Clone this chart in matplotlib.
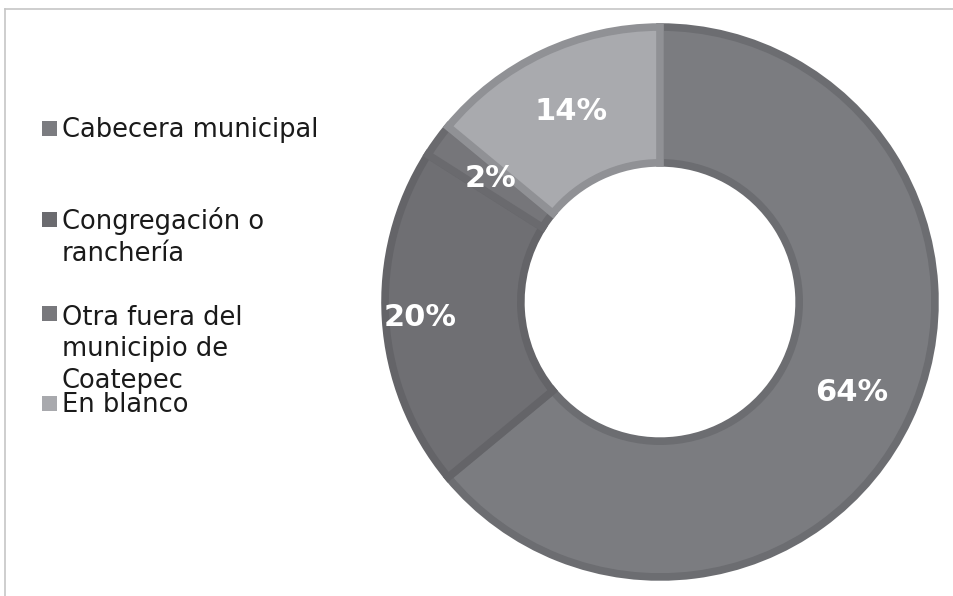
import matplotlib.pyplot as plt
from matplotlib.lines import Line2D
from matplotlib.patches import Rectangle
import numpy as np

# lugar de residencia
etiquetas = ["Cabecera municipal", "Congregación o\nranchería",
             "Otra fuera del\nmunicipio de\nCoatepec", "En blanco"]
valores = [64, 20, 2, 14]

relleno = ["#7b7c80", "#6f6f73", "#76767a", "#a9aaae"]
borde = ["#6c6d71", "#646468", "#6a6a6e", "#909195"]
marcas = ["#7b7c80", "#6b6b6f", "#78787c", "#a8a9ad"]

fig = plt.figure(figsize=(9.54, 5.96), dpi=100)
W, H = 954, 596

# marco del grafico (solo arriba e izquierda)
fig.add_artist(Line2D([5 / W, 1], [1 - 9 / H, 1 - 9 / H], color="#c6c6c6", lw=1.2))
fig.add_artist(Line2D([5 / W, 5 / W], [0, 1 - 9 / H], color="#c6c6c6", lw=1.2))

ax = fig.add_axes([380 / W, 14 / H, 560 / W, 560 / H])
wedges, _ = ax.pie(valores, startangle=90, counterclock=False, radius=0.982,
                   colors=relleno,
                   wedgeprops=dict(width=0.485, linewidth=5.5))
for w, c in zip(wedges, borde):
    w.set_edgecolor(c)
    w.set_joinstyle("miter")
ax.set_xlim(-1, 1)
ax.set_ylim(-1, 1)
ax.set_aspect("equal")
ax.axis("off")

# porcentajes
dist = [0.755, 0.86, 0.75, 0.75]
acum = 0
for v, d in zip(valores, dist):
    ang = np.deg2rad(90 - (acum + v / 2) * 3.6)
    acum += v
    ax.text(d * np.cos(ang), d * np.sin(ang), f"{v}%", ha="center", va="center",
            color="white", fontsize=22, fontweight="bold")

# leyenda (linea base de la primera linea de cada rotulo)
base_y = [137, 228, 322, 412]
paso = 33
for lab, c, y in zip(etiquetas, marcas, base_y):
    n = lab.count("\n")
    fig.add_artist(Rectangle((42 / W, 1 - (y - 1) / H), 15 / W, 15 / H,
                             transform=fig.transFigure, color=c, lw=0))
    fig.text(62 / W, 1 - (y + n * paso) / H, lab, fontsize=18.5, color="#1a1a1a",
             va="baseline", ha="left", linespacing=1.28)

fig.savefig("out.png", dpi=100, facecolor="white")
